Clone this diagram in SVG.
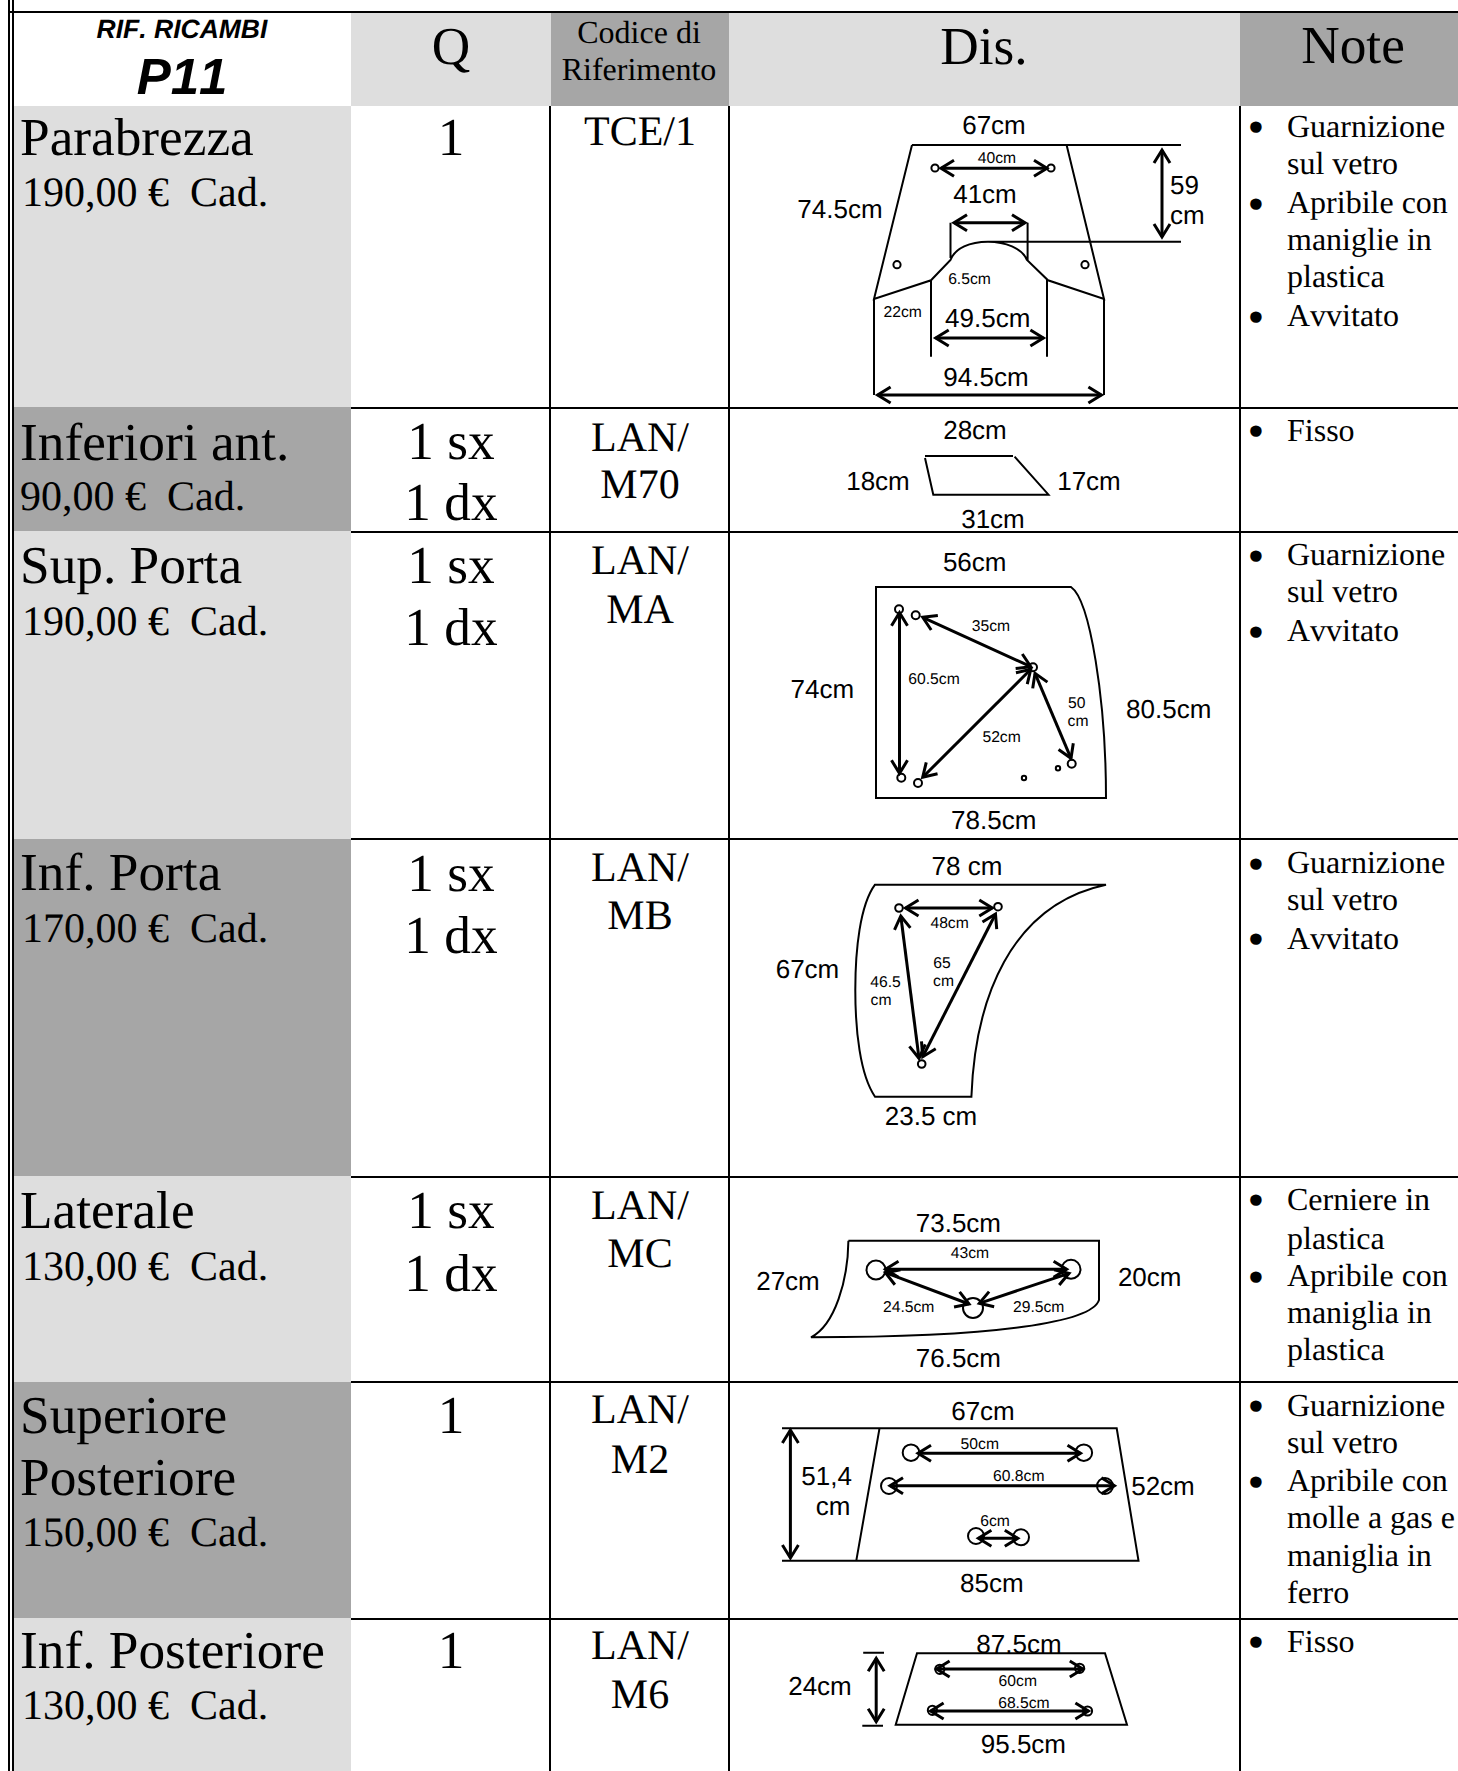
<svg xmlns="http://www.w3.org/2000/svg" width="1458" height="1771" viewBox="0 0 1458 1771">
<style>
text{fill:#000;font-kerning:none;text-rendering:geometricPrecision}
.s{font-family:"Liberation Serif","Times New Roman",serif}
.a{font-family:"Liberation Sans",Arial,sans-serif}
.t{font-size:53.3px}
.p{font-size:42px}
.n{font-size:32px}
.b{font-size:48px}
.c{text-anchor:middle}
.l{font-size:26px;text-anchor:middle}
.m{font-size:15.7px;text-anchor:middle}
.o{stroke:#000;stroke-width:2;fill:none}
.h{stroke:#000;stroke-width:3;fill:none;marker-start:url(#ah);marker-end:url(#ah)}
.dl{fill:#dedede}
.dk{fill:#a6a6a6}
</style>
<defs>
<marker id="ah" markerUnits="userSpaceOnUse" markerWidth="30" markerHeight="30" refX="15" refY="15" orient="auto-start-reverse" overflow="visible">
<path d="M2,7 L15,15 L2,23" fill="none" stroke="#000" stroke-width="3"/>
</marker>
</defs>
<rect width="1458" height="1771" fill="#fff"/>
<g id="grid">
<rect class="dl" x="351" y="13" width="200" height="93"/>
<rect class="dk" x="551" y="13" width="178" height="93"/>
<rect class="dl" x="729" y="13" width="511" height="93"/>
<rect class="dk" x="1240" y="13" width="218" height="93"/>
<g fill="none" stroke="#000" stroke-width="2" shape-rendering="crispEdges">
<path d="M9,0V1771M13,0V1771M9,12H1458"/>
<path d="M550,106V1771M729,106V1771M1240,106V1771"/>
<path d="M351,408H1458M351,532H1458M351,839H1458M351,1177H1458M351,1382H1458M351,1619H1458"/>
</g>
<rect class="dl" x="14" y="106" width="337" height="301"/>
<rect class="dk" x="14" y="407" width="337" height="124"/>
<rect class="dl" x="14" y="531" width="337" height="308"/>
<rect class="dk" x="14" y="839" width="337" height="337"/>
<rect class="dl" x="14" y="1176" width="337" height="206"/>
<rect class="dk" x="14" y="1382" width="337" height="236"/>
<rect class="dl" x="14" y="1618" width="337" height="153"/>
</g>
<g id="header">
<text class="a c" x="182" y="38" font-size="26.5" font-weight="bold" font-style="italic">RIF. RICAMBI</text>
<text class="a c" x="182" y="94" font-size="51" font-weight="bold" font-style="italic">P11</text>
<text class="s t c" x="451" y="64">Q</text>
<text class="s c" x="639" y="43" font-size="32">Codice di</text>
<text class="s c" x="639" y="80" font-size="32">Riferimento</text>
<text class="s t c" x="984" y="64">Dis.</text>
<text class="s t c" x="1353" y="63">Note</text>
</g>
<g id="row-parabrezza">
<text class="s t" x="20" y="155">Parabrezza</text>
<text class="s p" x="22" y="206" xml:space="preserve">190,00 €  Cad.</text>
<text class="s t c" x="451" y="155">1</text>
<text class="s p c" x="640" y="145">TCE/1</text>
<path class="o" d="M912,145H1181M912,145L874,299L931,280.3L950.5,260C955,248 970,241.7 988,241.7C1005,241.7 1022,248 1027,260L1048,280.3L1104,299L1066.6,145M988,241.7H1181M950.5,222.7V258M1027.6,222.7V260M931,280V356.7M1047,280V356.7M874,299V395M1104,299V395"/>
<circle class="o" cx="935" cy="168" r="3.6"/><circle class="o" cx="1051" cy="168" r="3.6"/><circle class="o" cx="897" cy="264.7" r="3.6"/><circle class="o" cx="1085" cy="264.7" r="3.6"/>
<g class="a">
<text class="l" x="994" y="134">67cm</text><text class="m" x="997" y="162.7">40cm</text><text class="l" x="985" y="203">41cm</text><text class="l" x="840" y="218">74.5cm</text>
<text font-size="26" x="1170" y="194">59</text><text font-size="26" x="1170" y="224">cm</text>
<text class="m" x="969.5" y="284">6.5cm</text><text class="m" x="902.7" y="316.7">22cm</text><text class="l" x="987.7" y="327">49.5cm</text><text class="l" x="986" y="385.7">94.5cm</text>
</g>
<g class="s n"><text class="b" x="1247.6" y="143.4">•</text><text x="1287" y="137">Guarnizione</text><text x="1287" y="174">sul vetro</text><text class="b" x="1247.6" y="220.4">•</text><text x="1287" y="213">Apribile con</text><text x="1287" y="250">maniglie in</text><text x="1287" y="287">plastica</text><text class="b" x="1247.6" y="333.4">•</text><text x="1287" y="326">Avvitato</text></g>
</g>
<g id="row-inferiori">
<text class="s t" x="20" y="460">Inferiori ant.</text>
<text class="s p" x="20" y="510" xml:space="preserve">90,00 €  Cad.</text>
<text class="s t c" x="451" y="459">1 sx</text><text class="s t c" x="451" y="520">1 dx</text>
<text class="s p c" x="640" y="451">LAN/</text><text class="s p c" x="640" y="498">M70</text>
<path class="o" d="M925,456H1013M925,458L933.3,494.7H1048.5L1014.6,456.7"/>
<g class="a"><text class="l" x="975" y="439">28cm</text><text class="l" x="878" y="490">18cm</text><text class="l" x="1089" y="490">17cm</text><text class="l" x="993" y="527.7">31cm</text></g>
<g class="s n"><text class="b" x="1247.6" y="447.4">•</text><text x="1287" y="441">Fisso</text></g>
</g>
<g id="row-sup-porta">
<text class="s t" x="20" y="583">Sup. Porta</text>
<text class="s p" x="22" y="635" xml:space="preserve">190,00 €  Cad.</text>
<text class="s t c" x="451" y="583">1 sx</text><text class="s t c" x="451" y="645">1 dx</text>
<text class="s p c" x="640" y="574">LAN/</text><text class="s p c" x="640" y="623">MA</text>
<path class="o" d="M876,587H1071C1090,600 1106,700 1106,798H876Z"/>
<g class="o"><circle cx="899" cy="609.3" r="4"/><circle cx="915.7" cy="615.3" r="4"/><circle cx="1033" cy="667.3" r="4"/><circle cx="1071.7" cy="763.7" r="4"/><circle cx="1058" cy="768.3" r="2.2"/><circle cx="1024" cy="778" r="2.2"/><circle cx="901.3" cy="777.7" r="4"/><circle cx="918" cy="783" r="4"/></g>
<g class="a"><text class="l" x="974.7" y="571">56cm</text><text class="m" x="991" y="630.7">35cm</text><text class="m" x="934" y="684">60.5cm</text><text class="m" x="1076.8" y="708">50</text><text class="m" x="1078" y="726">cm</text><text class="m" x="1001.6" y="742">52cm</text><text class="l" x="822.4" y="698.3">74cm</text><text class="l" x="1168.7" y="717.7">80.5cm</text><text class="l" x="993.7" y="829.3">78.5cm</text></g>
<g class="s n"><text class="b" x="1247.6" y="572.4">•</text><text x="1287" y="565">Guarnizione</text><text x="1287" y="602">sul vetro</text><text class="b" x="1247.6" y="648.4">•</text><text x="1287" y="641">Avvitato</text></g>
</g>
<g id="row-inf-porta">
<text class="s t" x="20" y="890">Inf. Porta</text>
<text class="s p" x="22" y="942" xml:space="preserve">170,00 €  Cad.</text>
<text class="s t c" x="451" y="891">1 sx</text><text class="s t c" x="451" y="953">1 dx</text>
<text class="s p c" x="640" y="881">LAN/</text><text class="s p c" x="640" y="929">MB</text>
<path class="o" d="M875,884.7H1106C1010,905 975,1000 971.4,1096.7H875C860,1075 855.3,1030 855.3,990C855.3,950 860,905 875,884.7Z"/>
<g class="o"><circle cx="899" cy="908" r="3.8"/><circle cx="998" cy="906.7" r="3.8"/><circle cx="921.7" cy="1064" r="3.8"/></g>
<g class="a"><text class="l" x="967" y="875">78 cm</text><text class="m" x="949.6" y="927.7">48cm</text><text class="m" x="885.5" y="986.7">46.5</text><text class="m" x="881" y="1005">cm</text><text class="m" x="942" y="968">65</text><text class="m" x="943.5" y="986">cm</text><text class="l" x="807.5" y="978">67cm</text><text class="l" x="931" y="1125">23.5 cm</text></g>
<g class="s n"><text class="b" x="1247.6" y="880.4">•</text><text x="1287" y="873">Guarnizione</text><text x="1287" y="910">sul vetro</text><text class="b" x="1247.6" y="955.4">•</text><text x="1287" y="949">Avvitato</text></g>
</g>
<g id="row-laterale">
<text class="s t" x="20" y="1228">Laterale</text>
<text class="s p" x="22" y="1280" xml:space="preserve">130,00 €  Cad.</text>
<text class="s t c" x="451" y="1228">1 sx</text><text class="s t c" x="451" y="1291">1 dx</text>
<text class="s p c" x="640" y="1219">LAN/</text><text class="s p c" x="640" y="1267">MC</text>
<path class="o" d="M848.4,1240.7H1099V1300C1092,1322 1000,1337 811,1337.3C835,1325 848,1280 848.4,1240.7"/>
<g class="o"><circle cx="876" cy="1270" r="9.5"/><circle cx="1071" cy="1269.3" r="9.5"/><circle cx="973" cy="1308" r="10"/></g>
<g class="a"><text class="l" x="958.4" y="1232.3">73.5cm</text><text class="m" x="970" y="1258.3">43cm</text><text class="m" x="908.7" y="1311.7">24.5cm</text><text class="m" x="1038.7" y="1311.7">29.5cm</text><text class="l" x="788" y="1290">27cm</text><text class="l" x="1149.7" y="1285.7">20cm</text><text class="l" x="958.4" y="1366.7">76.5cm</text></g>
<g class="s n"><text class="b" x="1247.6" y="1216.4">•</text><text x="1287" y="1210">Cerniere in</text><text x="1287" y="1249">plastica</text><text class="b" x="1247.6" y="1293.4">•</text><text x="1287" y="1286">Apribile con</text><text x="1287" y="1323">maniglia in</text><text x="1287" y="1360">plastica</text></g>
</g>
<g id="row-superiore">
<text class="s t" x="20" y="1433">Superiore</text><text class="s t" x="20" y="1495">Posteriore</text>
<text class="s p" x="22" y="1546" xml:space="preserve">150,00 €  Cad.</text>
<text class="s t c" x="451" y="1433">1</text>
<text class="s p c" x="640" y="1423">LAN/</text><text class="s p c" x="640" y="1473">M2</text>
<path class="o" d="M782,1428.3H1116.7L1138.5,1560.7H782M879.5,1428.3L856.3,1560.7"/>
<g class="o"><circle cx="911" cy="1452.7" r="8.3"/><circle cx="1083.8" cy="1452.7" r="8.3"/><circle cx="889" cy="1486" r="8"/><circle cx="1105" cy="1486" r="8"/><circle cx="976" cy="1536" r="8"/><circle cx="1021" cy="1537.3" r="8"/></g>
<g class="a"><text class="l" x="983" y="1420">67cm</text><text class="l" x="826.6" y="1485">51,4</text><text class="l" x="833" y="1515.3">cm</text><text class="l" x="1163" y="1495">52cm</text><text class="l" x="991.8" y="1591.5">85cm</text><text class="m" x="979.8" y="1448.7">50cm</text><text class="m" x="1018.8" y="1481.3">60.8cm</text><text class="m" x="995" y="1526">6cm</text></g>
<g class="s n"><text class="b" x="1247.6" y="1422.4">•</text><text x="1287" y="1416">Guarnizione</text><text x="1287" y="1453">sul vetro</text><text class="b" x="1247.6" y="1498.4">•</text><text x="1287" y="1491">Apribile con</text><text x="1287" y="1528">molle a gas e</text><text x="1287" y="1566">maniglia in</text><text x="1287" y="1603">ferro</text></g>
</g>
<g id="row-inf-posteriore">
<text class="s t" x="20" y="1668">Inf. Posteriore</text>
<text class="s p" x="22" y="1719" xml:space="preserve">130,00 €  Cad.</text>
<text class="s t c" x="451" y="1668">1</text>
<text class="s p c" x="640" y="1659">LAN/</text><text class="s p c" x="640" y="1708">M6</text>
<g class="a"><text class="l" x="1019" y="1653.3">87.5cm</text><text class="l" x="820" y="1695">24cm</text><text class="m" x="1017.8" y="1685.7">60cm</text><text class="m" x="1023.9" y="1708.3">68.5cm</text><text class="l" x="1023.4" y="1752.7">95.5cm</text></g>
<path class="o" d="M917,1653.3H1105L1127,1724.7H895.7ZM863.2,1652.7H884M862.3,1725.7H883"/>
<g class="o"><circle cx="939.8" cy="1669.3" r="4.6"/><circle cx="1079.6" cy="1668.3" r="4.6"/><circle cx="932.4" cy="1710.3" r="4.6"/><circle cx="1087.5" cy="1711" r="4.6"/></g>
<g class="s n"><text class="b" x="1247.6" y="1658.4">•</text><text x="1287" y="1652">Fisso</text></g>
</g>
<g id="connectors">
<line class="h" x1="877.6" y1="395" x2="1101.4" y2="395"/>
<line class="h" x1="935.7" y1="338" x2="1043.4" y2="338"/>
<line class="h" x1="954" y1="222.7" x2="1025" y2="222.7"/>
<line class="h" x1="941" y1="168.3" x2="1047" y2="168.3"/>
<line class="h" x1="1162" y1="150" x2="1162" y2="237"/>
<line class="h" x1="899.5" y1="612.7" x2="899.5" y2="773.3"/>
<line class="h" x1="922.7" y1="617.3" x2="1030.8" y2="666.7"/>
<line class="h" x1="1030.8" y1="669.3" x2="922.7" y2="777.3"/>
<line class="h" x1="1035" y1="673.3" x2="1071" y2="758.3"/>
<line class="h" x1="905.5" y1="908" x2="992.3" y2="908"/>
<line class="h" x1="900.8" y1="916" x2="919" y2="1058.3"/>
<line class="h" x1="995.5" y1="914" x2="922.7" y2="1056.7"/>
<line class="h" x1="885.5" y1="1269.3" x2="1066.6" y2="1269.3"/>
<line class="h" x1="885.5" y1="1272.7" x2="969" y2="1304"/>
<line class="h" x1="1069" y1="1273.3" x2="979.3" y2="1303.3"/>
<line class="h" x1="790.4" y1="1430" x2="790.4" y2="1558"/>
<line class="h" x1="918" y1="1453.3" x2="1080.5" y2="1453.3"/>
<line class="h" x1="890" y1="1485.7" x2="1114.4" y2="1485.7"/>
<line class="h" x1="978.4" y1="1538.3" x2="1017.8" y2="1538.3"/>
<line class="h" x1="876.2" y1="1658.3" x2="876.2" y2="1721.7"/>
<line class="h" x1="936.6" y1="1669" x2="1082.8" y2="1669"/>
<line class="h" x1="930.6" y1="1711" x2="1088.4" y2="1711"/>
</g>
</svg>
